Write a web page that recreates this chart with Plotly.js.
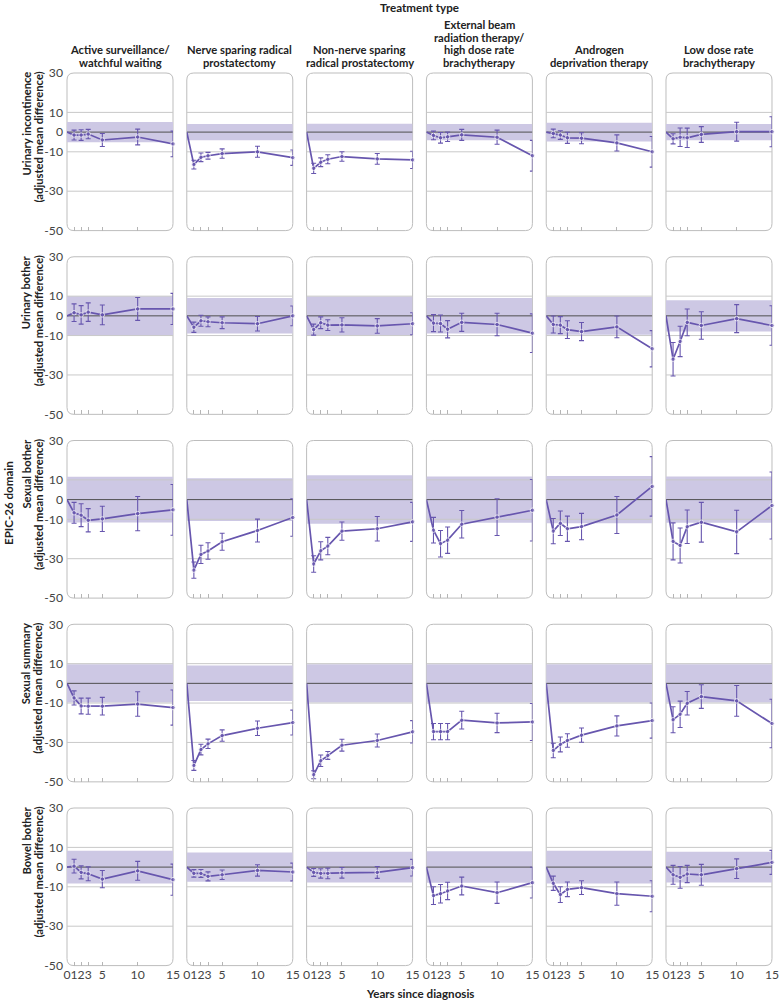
<!DOCTYPE html>
<html>
<head>
<meta charset="utf-8">
<script src="https://cdn.plot.ly/plotly-3.0.1.min.js"></script>
<style>html,body{margin:0;padding:0;background:#fff}#chart{width:779px;height:1000px}</style>
</head>
<body>
<div id="chart"></div>
<script>
// ---------- data ----------
const years = [0, 1, 2, 3, 5, 10, 15];
const xTickLabels = ["0", "1", "2", "3", "5", "10", "15"];
const yTickVals = [30, 10, 0, -10, -30, -50];
const yTickLabels = ["30", "10", "0", "-10", "-30", "-50"];
const gridVals = [10, -10, -30];

const treatmentTitles = [
  ["Active surveillance/", "watchful waiting"],
  ["Nerve sparing radical", "prostatectomy"],
  ["Non-nerve sparing", "radical prostatectomy"],
  ["External beam", "radiation therapy/", "high dose rate", "brachytherapy"],
  ["Androgen", "deprivation therapy"],
  ["Low dose rate", "brachytherapy"]
];
const domainTitles = [
  ["Urinary incontinence", "(adjusted mean difference)"],
  ["Urinary bother", "(adjusted mean difference)"],
  ["Sexual bother", "(adjusted mean difference)"],
  ["Sexual summary", "(adjusted mean difference)"],
  ["Bowel bother", "(adjusted mean difference)"]
];

// order of series in each domain: AS/WW, NS RP, NNS RP, EBRT/HDR, ADT, LDR
const urinaryIncontinenceMean = [
  [0, -1.5, -1.5, -1.0, -4.0, -2.5, -6.0],
  [0, -16.5, -12.8, -12.0, -10.9, -10.0, -13.0],
  [0, -18.4, -15.3, -13.8, -12.4, -13.6, -14.1],
  [0, -1.7, -2.9, -2.4, -1.4, -2.6, -12.0],
  [0, -0.7, -1.5, -2.9, -3.1, -5.5, -10.0],
  [0, -3.4, -2.6, -2.9, -1.2, 0.2, 0.2]
];
const urinaryIncontinenceErr = [
  [null, 2.5, 2.7, 2.4, 3.3, 4.0, 6.5],
  [null, 2.2, 2.2, 1.7, 2.4, 2.8, 3.9],
  [null, 2.6, 2.2, 2.3, 2.4, 2.7, 4.4],
  [null, 2.2, 2.7, 2.4, 2.8, 3.6, 7.8],
  [null, 2.2, 2.2, 2.8, 2.8, 4.1, 7.8],
  [null, 2.6, 4.7, 4.9, 4.0, 4.8, 7.6]
];
const urinaryIncontinenceBand = [5.1, 4.1, 4.3, 4.1, 4.8, 4.1];

const urinaryBotherMean = [
  [0, 1.6, 0.5, 1.9, 0.5, 3.5, 3.5],
  [0, -5.8, -2.5, -3.0, -3.5, -4.0, 0.0],
  [0, -7.0, -3.5, -4.7, -4.6, -5.1, -4.0],
  [0, -3.7, -3.9, -6.8, -3.3, -4.4, -8.8],
  [0, -4.4, -4.7, -7.0, -8.0, -5.6, -16.7],
  [0, -22.0, -13.0, -3.3, -4.9, -1.4, -4.9]
];
const urinaryBotherErr = [
  [null, 4.5, 4.7, 4.7, 5.0, 5.8, 7.9],
  [null, 2.6, 2.8, 2.5, 3.0, 3.7, 5.0],
  [null, 2.8, 3.0, 2.7, 3.6, 3.7, 5.6],
  [null, 4.3, 4.3, 4.4, 4.6, 5.7, 9.8],
  [null, 4.3, 4.3, 4.5, 4.6, 5.5, 9.2],
  [null, 8.5, 7.7, 6.8, 7.0, 7.1, 10.0]
];
const urinaryBotherBand = [10.0, 9.0, 9.8, 9.0, 9.6, 7.9];

const sexualBotherMean = [
  [0, -6.7, -7.9, -10.5, -9.8, -7.1, -5.2],
  [0, -35.8, -27.8, -26.1, -21.4, -15.7, -9.1],
  [0, -32.7, -26.0, -23.6, -16.0, -14.8, -11.3],
  [0, -15.5, -22.4, -20.6, -12.5, -8.9, -5.4],
  [0, -16.0, -12.0, -14.8, -13.7, -7.8, 6.7],
  [0, -21.2, -23.3, -13.8, -11.5, -16.4, -3.0]
];
const sexualBotherErr = [
  [null, 5.3, 5.8, 5.9, 6.4, 8.7, 12.9],
  [null, 4.1, 4.6, 4.2, 4.3, 5.8, 9.5],
  [null, 4.2, 4.6, 4.4, 4.6, 6.2, 9.9],
  [null, 6.5, 6.7, 6.7, 7.0, 9.3, 15.6],
  [null, 6.4, 6.2, 6.4, 6.7, 9.4, 15.1],
  [null, 9.4, 8.9, 8.5, 10.1, 11.0, 17.0]
];
const sexualBotherBand = [11.6, 10.8, 12.3, 11.7, 12.0, 11.7];

const sexualSummaryMean = [
  [0, -7.4, -11.5, -11.6, -11.6, -10.5, -12.3],
  [0, -41.7, -33.6, -30.7, -26.5, -22.8, -19.9],
  [0, -46.4, -39.3, -36.6, -31.4, -29.0, -24.6],
  [0, -24.5, -24.5, -24.5, -18.7, -20.1, -19.6],
  [0, -34.1, -31.0, -29.0, -26.3, -21.6, -18.9],
  [0, -18.5, -15.7, -10.1, -6.7, -8.9, -20.4]
];
const sexualSummaryErr = [
  [null, 3.6, 4.0, 4.1, 4.5, 6.2, 8.9],
  [null, 2.5, 2.7, 2.4, 2.9, 3.7, 6.3],
  [null, 2.0, 2.9, 2.0, 3.0, 3.3, 5.7],
  [null, 4.1, 4.1, 4.1, 4.5, 4.9, 9.4],
  [null, 3.7, 3.8, 3.4, 3.6, 5.1, 8.9],
  [null, 6.6, 6.7, 6.0, 6.0, 7.8, 12.3]
];
const sexualSummaryBand = [9.7, 9.0, 9.7, 9.7, 9.7, 9.7];

const bowelBotherMean = [
  [0, 0.5, -2.7, -3.4, -6.1, -1.9, -6.4],
  [0, -3.2, -3.2, -4.7, -3.9, -1.7, -2.5],
  [0, -2.7, -3.2, -3.2, -2.9, -2.7, -0.3],
  [0, -14.5, -13.5, -12.1, -9.6, -13.0, -7.9],
  [0, -8.2, -14.0, -11.3, -10.4, -13.5, -14.8],
  [0, -3.9, -5.2, -3.5, -3.9, -0.8, 2.4]
];
const bowelBotherErr = [
  [null, 3.5, 3.3, 3.5, 4.4, 4.8, 7.9],
  [null, 1.9, 2.0, 2.3, 2.4, 2.9, 4.5],
  [null, 2.0, 2.4, 2.7, 2.7, 3.0, 4.2],
  [null, 4.5, 4.7, 4.4, 4.5, 5.4, 7.8],
  [null, 3.6, 4.0, 3.7, 3.5, 5.9, 7.9],
  [null, 4.8, 5.5, 4.4, 5.3, 5.0, 6.1]
];
const bowelBotherBand = [8.3, 7.4, 7.8, 8.0, 8.3, 7.8];

// ---------- build ----------
const domains = [
  {mean: urinaryIncontinenceMean, err: urinaryIncontinenceErr, band: urinaryIncontinenceBand},
  {mean: urinaryBotherMean, err: urinaryBotherErr, band: urinaryBotherBand},
  {mean: sexualBotherMean, err: sexualBotherErr, band: sexualBotherBand},
  {mean: sexualSummaryMean, err: sexualSummaryErr, band: sexualSummaryBand},
  {mean: bowelBotherMean, err: bowelBotherErr, band: bowelBotherBand}
];

const W = 779, H = 1000;
const FONT = "Lato, 'Open Sans', sans-serif";
const PURPLE = "#6756ae";
const BAND = "#cdc8e4";
const TITLE_SIZE = 11.2;
const TICK_SIZE = 12.2;
const left0 = 67, colPitch = 119.8, panelW = 106;
const top0 = 73, rowPitch = 183.75, panelH = 157.6;
const X = px => px / W;
const Y = py => 1 - py / H;

const traces = [];
const shapes = [];
const annotations = [];
const layout = {
  width: W, height: H,
  margin: {l: 0, r: 0, t: 0, b: 0},
  paper_bgcolor: "#ffffff",
  plot_bgcolor: "rgba(0,0,0,0)",
  showlegend: false,
  hovermode: false,
  font: {family: FONT, size: 11, color: "#333"}
};

function roundRectPath(x0, y0, x1, y1, r) {
  const p = (px, py) => X(px).toFixed(5) + "," + Y(py).toFixed(5);
  return "M" + p(x0 + r, y0) + " L" + p(x1 - r, y0) + " Q" + p(x1, y0) + " " + p(x1, y0 + r) +
    " L" + p(x1, y1 - r) + " Q" + p(x1, y1) + " " + p(x1 - r, y1) +
    " L" + p(x0 + r, y1) + " Q" + p(x0, y1) + " " + p(x0, y1 - r) +
    " L" + p(x0, y0 + r) + " Q" + p(x0, y0) + " " + p(x0 + r, y0) + " Z";
}

domains.forEach((dom, r) => {
  const top = top0 + r * rowPitch, bottom = top + panelH;
  treatmentTitles.forEach((_, c) => {
    const i = r * 6 + c + 1;
    const xa = "x" + i, ya = "y" + i;
    const left = left0 + c * colPitch, right = left + panelW;

    layout["xaxis" + i] = {
      domain: [X(left), X(right)], anchor: ya, range: [0, 15], fixedrange: true,
      tickvals: years, ticktext: xTickLabels, tickangle: 0, ticklabeloverflow: "allow",
      ticks: "inside", ticklen: 4, tickwidth: 1, tickcolor: "#b5b5b5",
      showticklabels: r === domains.length - 1,
      tickfont: {family: FONT, size: TICK_SIZE, color: "#444"},
      showgrid: false, zeroline: false, showline: false
    };
    layout["yaxis" + i] = {
      domain: [Y(bottom), Y(top)], anchor: xa, range: [-50, 30], fixedrange: true,
      tickvals: yTickVals, ticktext: yTickLabels, ticks: "",
      showticklabels: c === 0, ticklabelstandoff: 3, ticklabeloverflow: "allow",
      tickfont: {family: FONT, size: TICK_SIZE, color: "#444"},
      showgrid: false, zeroline: false, showline: false
    };

    // panel border
    shapes.push({type: "path", xref: "paper", yref: "paper", layer: "below",
      path: roundRectPath(left, top, right, bottom, 7),
      line: {color: "#bdbdbd", width: 1}, fillcolor: "rgba(0,0,0,0)"});
    // band
    shapes.push({type: "rect", xref: xa, yref: ya, layer: "below",
      x0: 0, x1: 15, y0: -dom.band[c], y1: dom.band[c],
      line: {width: 0}, fillcolor: BAND});
    // gridlines
    gridVals.forEach(g => shapes.push({type: "line", xref: xa, yref: ya, layer: "below",
      x0: 0, x1: 15, y0: g, y1: g, line: {color: "#c9c9c9", width: 1}}));
    // zero line
    shapes.push({type: "line", xref: xa, yref: ya, layer: "below",
      x0: 0, x1: 15, y0: 0, y1: 0, line: {color: "#4f4f4f", width: 1}});

    const errs = dom.err[c].map(v => (v === null ? NaN : v));
    traces.push({
      type: "scatter", mode: "lines+markers", xaxis: xa, yaxis: ya,
      x: years, y: dom.mean[c], cliponaxis: false,
      line: {color: PURPLE, width: 1.7},
      marker: {color: PURPLE, size: years.map((_, k) => (k === 0 ? 0 : 4.5))},
      error_y: {type: "data", array: errs, visible: true, color: PURPLE, thickness: 1.1, width: 2.5},
      hoverinfo: "skip"
    });
  });

  // row titles (rotated, end aligned at top of panel)
  const lineX = [25.5, 38];
  domainTitles[r].forEach((t, k) => {
    annotations.push({xref: "paper", yref: "paper", x: X(lineX[k]), y: Y(top - 3),
      xanchor: "center", yanchor: "top", textangle: -90, showarrow: false,
      text: "<b>" + t + "</b>", font: {family: FONT, size: TITLE_SIZE, color: "#222"}});
  });
});

// column titles
treatmentTitles.forEach((lines, c) => {
  const cx = left0 + c * colPitch + panelW / 2;
  lines.forEach((t, k) => {
    const cy = 62.5 - (lines.length - 1 - k) * 12.6;
    annotations.push({xref: "paper", yref: "paper", x: X(cx), y: Y(cy),
      xanchor: "center", yanchor: "middle", showarrow: false,
      text: "<b>" + t + "</b>", font: {family: FONT, size: TITLE_SIZE, color: "#222"}});
  });
});

annotations.push({xref: "paper", yref: "paper", x: X(419.5), y: Y(7), xanchor: "center", yanchor: "middle",
  showarrow: false, text: "<b>Treatment type</b>", font: {family: FONT, size: TITLE_SIZE + 0.4, color: "#222"}});
annotations.push({xref: "paper", yref: "paper", x: X(419.5), y: Y(993), xanchor: "center", yanchor: "middle",
  showarrow: false, text: "<b>Years since diagnosis</b>", font: {family: FONT, size: TITLE_SIZE + 0.4, color: "#222"}});
annotations.push({xref: "paper", yref: "paper", x: X(8), y: Y(503), xanchor: "center", yanchor: "middle",
  textangle: -90, showarrow: false, text: "<b>EPIC-26 domain</b>", font: {family: FONT, size: TITLE_SIZE + 0.4, color: "#222"}});

layout.shapes = shapes;
layout.annotations = annotations;

Plotly.newPlot("chart", traces, layout, {displayModeBar: false, staticPlot: true});
</script>
</body>
</html>
